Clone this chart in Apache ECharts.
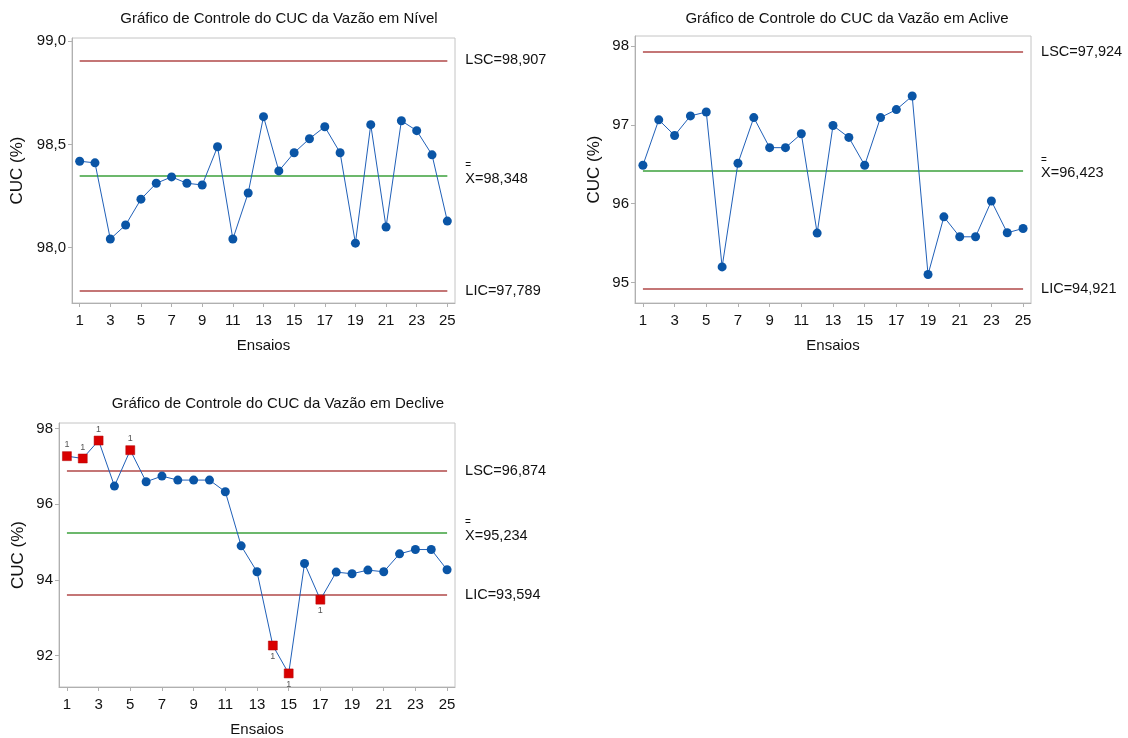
<!DOCTYPE html>
<html>
<head>
<meta charset="utf-8">
<script src="https://cdn.jsdelivr.net/npm/echarts@6/dist/echarts.min.js"></script>
<style>
html,body{margin:0;padding:0;background:#fff;}
#c{width:1128px;height:738px;}
</style>
</head>
<body>
<div id="c"></div>
<script>
// ---- Data ----
const ensaios = ['1','2','3','4','5','6','7','8','9','10','11','12','13','14','15','16','17','18','19','20','21','22','23','24','25'];

const titles = [
  'Gráfico de Controle do CUC da Vazão em Nível',
  'Gráfico de Controle do CUC da Vazão em Aclive',
  'Gráfico de Controle do CUC da Vazão em Declive'
];

const nivel = [98.419, 98.411, 98.042, 98.110, 98.235, 98.312, 98.343, 98.312, 98.304, 98.489, 98.042, 98.265, 98.635, 98.372, 98.460, 98.528, 98.586, 98.460, 98.022, 98.596, 98.100, 98.615, 98.567, 98.450, 98.129];
const aclive = [96.487, 97.063, 96.865, 97.113, 97.163, 95.197, 96.512, 97.092, 96.710, 96.710, 96.886, 95.626, 96.991, 96.840, 96.487, 97.092, 97.193, 97.365, 95.100, 95.832, 95.579, 95.579, 96.033, 95.630, 95.685];
const declive = [97.271, 97.209, 97.684, 96.480, 97.429, 96.594, 96.743, 96.638, 96.638, 96.638, 96.330, 94.898, 94.213, 92.262, 91.524, 94.432, 93.475, 94.204, 94.160, 94.257, 94.213, 94.687, 94.801, 94.801, 94.265];

// control limits: [LSC, mean, LIC]
const limNivel = [98.907, 98.348, 97.789];
const limAclive = [97.924, 96.423, 94.921];
const limDeclive = [96.874, 95.234, 93.594];

// out-of-control points (index) and label side
const outAbove = [0, 1, 2, 4];
const outBelow = [13, 14, 16];

// y tick labels
const ticksNivel = [98.0, 98.5, 99.0];
const ticksAclive = [95, 96, 97, 98];
const ticksDeclive = [92, 94, 96, 98];

// ---- Styling ----
const FONT = 'Liberation Sans, Arial, sans-serif';
const GREY = '#b0b0b0';
const RED_LINE = '#c47676';
const GREEN_LINE = '#6cb86c';
const BLUE = '#0a55a6';
const LINE_BLUE = '#2060b8';
const RED_PT = '#d90000';
const TXT = '#111';

const fmtComma = (d) => (v) => v.toFixed(d).replace('.', ',');
function fmt3(v){ return v.toFixed(3).replace('.', ','); }

const grids = [
  {left:72, top:38, width:383, height:265},
  {left:635, top:36, width:396, height:267},
  {left:59, top:423, width:396, height:265}
];
const yRanges = [[97.732, 99.016],[94.739, 98.127],[91.165, 98.148]];
const yTicks = [ticksNivel, ticksAclive, ticksDeclive];
const yFmt = [fmtComma(1), fmtComma(0), fmtComma(0)];
const yNameGap = [46, 32, 32];
const limits = [limNivel, limAclive, limDeclive];
const values = [nivel, aclive, declive];

const xAxes = grids.map((g,i)=>({
  type:'category', gridIndex:i, data:ensaios, boundaryGap:true,
  name:'Ensaios', nameLocation:'middle', nameGap:35,
  nameTextStyle:{fontFamily:FONT, fontSize:15, color:TXT},
  axisLine:{show:true, lineStyle:{color:GREY, width:1}},
  axisTick:{show:true, alignWithLabel:true, interval:1, length:4, lineStyle:{color:GREY}},
  axisLabel:{interval:1, margin:10, fontFamily:FONT, fontSize:15, color:TXT},
  splitLine:{show:false}
}));

const yAxes = grids.map((g,i)=>({
  type:'value', gridIndex:i, min:yRanges[i][0], max:yRanges[i][1],
  name:'CUC (%)', nameLocation:'middle', nameGap:yNameGap[i], nameRotate:90,
  nameTextStyle:{fontFamily:FONT, fontSize:17, color:TXT},
  axisLine:{show:true, lineStyle:{color:GREY, width:1}},
  axisTick:{show:true, length:4, lineStyle:{color:GREY}, customValues:yTicks[i]},
  axisLabel:{margin:6, fontFamily:FONT, fontSize:15, color:TXT, formatter:yFmt[i], customValues:yTicks[i]},
  splitLine:{show:false}
}));

function markLineFor(lim){
  const lblBase = {show:true, position:'end', distance:18, fontFamily:FONT, fontSize:14.5, color:TXT};
  return {
    silent:true, symbol:['none','none'], animation:false,
    data:[
      [{coord:['1', lim[0]], lineStyle:{color:RED_LINE, width:2, type:'solid'},
        label:Object.assign({}, lblBase, {formatter:'LSC=' + fmt3(lim[0]), padding:[4,0,0,0]})},
       {coord:['25', lim[0]]}],
      [{coord:['1', lim[1]], lineStyle:{color:GREEN_LINE, width:2, type:'solid'},
        label:Object.assign({}, lblBase, {
          formatter:'{b|=}\n{t|X=' + fmt3(lim[1]) + '}',
          padding:[0,0,5,0],
          rich:{
            b:{fontFamily:FONT, fontSize:10, lineHeight:11, color:TXT},
            t:{fontFamily:FONT, fontSize:14.5, lineHeight:16, color:TXT}
          }
        })},
       {coord:['25', lim[1]]}],
      [{coord:['1', lim[2]], lineStyle:{color:RED_LINE, width:2, type:'solid'},
        label:Object.assign({}, lblBase, {formatter:'LIC=' + fmt3(lim[2]), padding:[2,0,0,0]})},
       {coord:['25', lim[2]]}]
    ]
  };
}

function seriesData(vals, i){
  if(i !== 2) return vals.slice();
  return vals.map((v, k) => {
    if(outAbove.includes(k) || outBelow.includes(k)){
      return {
        value:v, symbol:'rect', symbolSize:9,
        itemStyle:{color:RED_PT, borderColor:'#b00000', borderWidth:0.5},
        label:{show:true, formatter:'1', position: outAbove.includes(k) ? 'top' : 'bottom',
          distance:2, fontFamily:FONT, fontSize:9, color:'#555'}
      };
    }
    return v;
  });
}

const series = values.map((vals,i)=>({
  type:'line', xAxisIndex:i, yAxisIndex:i, data:seriesData(vals,i),
  symbol:'circle', symbolSize:9, showAllSymbol:true,
  lineStyle:{color:LINE_BLUE, width:1},
  itemStyle:{color:BLUE},
  emphasis:{disabled:true},
  animation:false,
  z:5,
  markLine:markLineFor(limits[i])
}));

const titleStyle = {fontFamily:FONT, fontSize:15, fontWeight:'normal', color:TXT};
const option = {
  backgroundColor:'#fff',
  animation:false,
  title:[
    {text:titles[0], left:274, top:6, textAlign:'center', textStyle:titleStyle},
    {text:titles[1], left:842, top:6, textAlign:'center', textStyle:titleStyle},
    {text:titles[2], left:273, top:391, textAlign:'center', textStyle:titleStyle}
  ],
  grid:grids.map(g=>Object.assign({show:true, borderColor:'#c4c4c4', borderWidth:1, backgroundColor:'transparent'}, g)),
  xAxis:xAxes,
  yAxis:yAxes,
  series:series
};

const chart = echarts.init(document.getElementById('c'), null, {renderer:'canvas'});
chart.setOption(option);
</script>
</body>
</html>
